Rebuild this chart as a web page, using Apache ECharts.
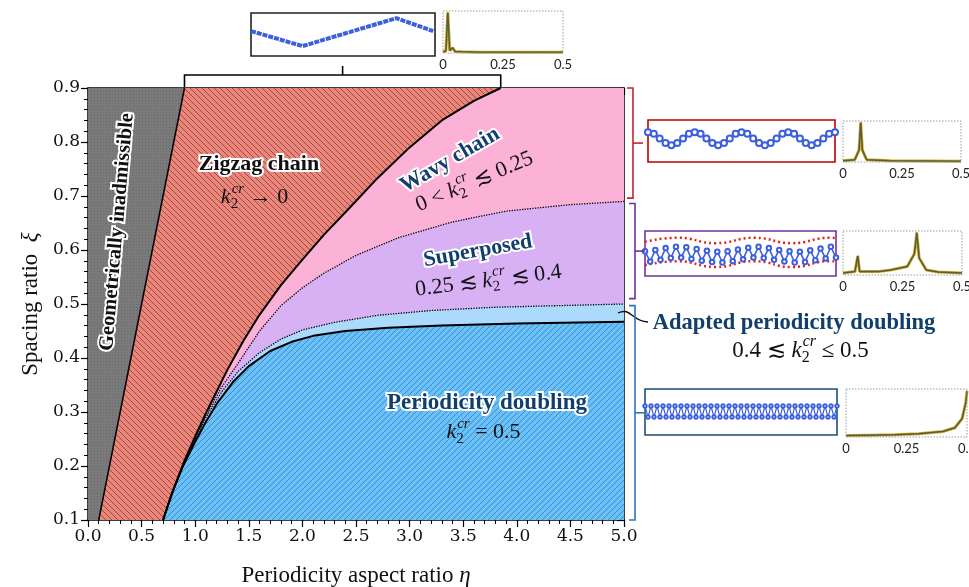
<!DOCTYPE html>
<html>
<head>
<meta charset="utf-8">
<script src="https://cdn.jsdelivr.net/npm/echarts@6/dist/echarts.min.js"></script>
<style>
html, body { margin: 0; padding: 0; background: #fff; }
#main { width: 969px; height: 587px; }
</style>
</head>
<body>
<div id="main"></div>
<script>
// phase boundaries, points are [eta, xi]
var admissibleLine = [[0.1, 0.1], [0.9, 0.9]];
var zigzagLine = [[0.70, 0.10], [0.80, 0.158], [0.90, 0.21], [1.0, 0.255], [1.1, 0.298], [1.2, 0.338], [1.3, 0.378], [1.45, 0.432], [1.6, 0.48], [1.8, 0.535], [2.0, 0.582], [2.2, 0.628], [2.45, 0.68], [2.7, 0.733], [3.0, 0.79], [3.3, 0.84], [3.6, 0.876], [3.85, 0.90]];
var doublingLine = [[0.70, 0.10], [0.78, 0.148], [0.88, 0.197], [1.0, 0.245], [1.1, 0.282], [1.2, 0.315], [1.35, 0.355], [1.5, 0.385], [1.7, 0.413], [1.9, 0.43], [2.1, 0.441], [2.4, 0.45], [2.8, 0.456], [3.3, 0.46], [4.0, 0.464], [5.0, 0.467]];
var adaptedLine = [[0.95, 0.228], [1.1, 0.29], [1.25, 0.338], [1.4, 0.375], [1.6, 0.41], [1.8, 0.435], [2.0, 0.452], [2.3, 0.466], [2.7, 0.479], [3.2, 0.488], [3.8, 0.494], [4.4, 0.497], [5.0, 0.5]];
var superposedLine = [[0.97, 0.24], [1.1, 0.294], [1.25, 0.347], [1.4, 0.39], [1.6, 0.45], [1.8, 0.497], [2.0, 0.53], [2.2, 0.557], [2.5, 0.59], [2.9, 0.623], [3.4, 0.652], [3.9, 0.672], [4.5, 0.684], [5.0, 0.69]];

// inset chain shapes (normalised box coords)
var zigzagChain = [[0.0, 0.58], [0.28, 0.23], [0.79, 0.88], [0.99, 0.58]];
var wavyChain = [0.71, 0.67, 0.56, 0.45, 0.40, 0.45, 0.56, 0.67, 0.71, 0.67, 0.56, 0.45, 0.40, 0.45, 0.56, 0.67, 0.71, 0.67, 0.56, 0.45, 0.40, 0.45, 0.56, 0.67, 0.71, 0.67, 0.56, 0.45, 0.40, 0.45, 0.56, 0.67, 0.71];
var superChain = [0.55, 0.32, 0.58, 0.36, 0.62, 0.40, 0.65, 0.41, 0.64, 0.38, 0.60, 0.34, 0.56, 0.31, 0.54, 0.30, 0.55, 0.33, 0.59, 0.37, 0.63, 0.41, 0.65, 0.40, 0.62, 0.36, 0.58, 0.32, 0.55, 0.30, 0.54, 0.31, 0.57, 0.35, 0.61, 0.39, 0.65, 0.41];
var superUpper = [[0, 0.76], [0.17, 0.85], [0.37, 0.73], [0.57, 0.85], [0.77, 0.73], [0.97, 0.85], [1.0, 0.84]];
var superLower = [[0, 0.24], [0.17, 0.33], [0.37, 0.20], [0.57, 0.33], [0.77, 0.20], [0.97, 0.33], [1.0, 0.32]];
var doublingChain = [0.63, 0.39, 0.63, 0.39, 0.63, 0.39, 0.63, 0.39, 0.63, 0.39, 0.63, 0.39, 0.63, 0.39, 0.63, 0.39, 0.63, 0.39, 0.63, 0.39, 0.63, 0.39, 0.63, 0.39, 0.63, 0.39, 0.63, 0.39, 0.63, 0.39, 0.63, 0.39, 0.63, 0.39, 0.63, 0.39, 0.63, 0.39, 0.63, 0.39, 0.63, 0.39, 0.63, 0.39, 0.63, 0.39, 0.63, 0.39, 0.63, 0.39, 0.63, 0.39, 0.63, 0.39, 0.63, 0.39, 0.63, 0.39, 0.63, 0.39, 0.63, 0.39, 0.63, 0.39, 0.63];

// wavenumber spectra [k, amplitude]
var specZigzag = [[0, 0.03], [0.012, 0.05], [0.02, 1.0], [0.028, 0.06], [0.04, 0.13], [0.05, 0.04], [0.08, 0.03], [0.15, 0.02], [0.5, 0.02]];
var specWavy = [[0, 0.03], [0.05, 0.06], [0.068, 0.3], [0.075, 1.0], [0.082, 0.3], [0.1, 0.06], [0.2, 0.03], [0.5, 0.02]];
var specSuper = [[0, 0.05], [0.05, 0.08], [0.062, 0.45], [0.07, 0.08], [0.15, 0.08], [0.2, 0.12], [0.27, 0.2], [0.3, 0.5], [0.31, 1.0], [0.32, 0.4], [0.35, 0.12], [0.4, 0.07], [0.5, 0.05]];
var specDoubling = [[0, 0.03], [0.1, 0.04], [0.2, 0.05], [0.3, 0.07], [0.4, 0.12], [0.45, 0.2], [0.48, 0.4], [0.495, 0.75], [0.5, 1.0]];
var specTicks = ['0', '0.25', '0.5'];

var serif = "'Liberation Serif','DejaVu Serif',serif";
var tickFont = "'DejaVu Serif',serif";
var navy = '#113f6d';

function hatch(bg, line, size, dir) {
  var c = document.createElement('canvas');
  c.width = c.height = size;
  var g = c.getContext('2d');
  g.fillStyle = bg;
  g.fillRect(0, 0, size, size);
  g.strokeStyle = line;
  g.lineWidth = 1;
  g.beginPath();
  for (var k = -1; k <= 1; k++) {
    if (dir > 0) { g.moveTo(k * size, size); g.lineTo(k * size + size, 0); }
    else { g.moveTo(k * size, 0); g.lineTo(k * size + size, size); }
  }
  g.stroke();
  return { image: c, repeat: 'repeat' };
}
function dots(bg, dot) {
  var c = document.createElement('canvas');
  c.width = c.height = 3;
  var g = c.getContext('2d');
  g.fillStyle = bg; g.fillRect(0, 0, 3, 3);
  g.fillStyle = dot; g.fillRect(1, 1, 1, 1);
  return { image: c, repeat: 'repeat' };
}

function region(points, fill) {
  return {
    type: 'custom', xAxisIndex: 0, yAxisIndex: 0, silent: true, z: 1,
    data: [[0, 0]],
    renderItem: function (params, api) {
      return {
        type: 'polygon',
        shape: { points: points.map(function (p) { return api.coord(p); }) },
        style: { fill: fill, stroke: null }
      };
    }
  };
}
function below(line, xi) { return line.filter(function (p) { return p[1] < xi; }); }

var grayPoly = [[0, 0.1]].concat(admissibleLine, [[0, 0.9]]);
var redPoly = [[0.1, 0.1]].concat(zigzagLine, [[0.9, 0.9]]);
var pinkPoly = zigzagLine.concat([[5, 0.9], [5, 0.1]]);
var purplePoly = below(zigzagLine, superposedLine[0][1]).concat(superposedLine, [[5, 0.1]]);
var lightPoly = below(zigzagLine, adaptedLine[0][1]).concat(adaptedLine, [[5, 0.1]]);
var bluePoly = doublingLine.concat([[5, 0.1]]);

function boundary(data, type, width) {
  return { type: 'line', xAxisIndex: 0, yAxisIndex: 0, data: data, showSymbol: false, silent: true, z: 3,
    lineStyle: { color: '#000', width: width, type: type } };
}

function mainX(pos) {
  var top = pos === 'top';
  return { gridIndex: 0, type: 'value', position: pos, min: 0, max: 5, interval: 0.5,
    axisLine: { onZero: false, lineStyle: { color: '#000', width: 1.5 } },
    axisTick: { inside: top, length: 7, lineStyle: { color: '#000', width: 1.2 } },
    minorTick: { show: true, splitNumber: 5, length: 4, lineStyle: { color: '#000', width: 1 } },
    splitLine: { show: false },
    axisLabel: { show: !top, margin: 8, fontFamily: tickFont, fontSize: 17, color: '#111',
      formatter: function (v) { return v.toFixed(1); } },
    name: top ? '' : 'Periodicity aspect ratio {i|η}', nameLocation: 'middle', nameGap: 44,
    nameTextStyle: { fontFamily: serif, fontSize: 23, color: '#111',
      rich: { i: { fontFamily: serif, fontSize: 23, fontStyle: 'italic', color: '#111' } } }
  };
}
function mainY(pos) {
  var right = pos === 'right';
  return { gridIndex: 0, type: 'value', position: pos, min: 0.1, max: 0.9, interval: 0.1,
    axisLine: { onZero: false, lineStyle: { color: '#000', width: 1.5 } },
    axisTick: { inside: right, length: 7, lineStyle: { color: '#000', width: 1.2 } },
    minorTick: { show: true, splitNumber: 5, length: 4, lineStyle: { color: '#000', width: 1 } },
    splitLine: { show: false },
    axisLabel: { show: !right, margin: 8, fontFamily: tickFont, fontSize: 17, color: '#111',
      formatter: function (v) { return v.toFixed(1); } },
    name: right ? '' : 'Spacing ratio  {i|ξ}', nameLocation: 'middle', nameGap: 38,
    nameTextStyle: { fontFamily: serif, fontSize: 23, color: '#111',
      rich: { i: { fontFamily: serif, fontSize: 23, fontStyle: 'italic', color: '#111' } } }
  };
}

var insetGrids = [
  { left: 251, top: 13, width: 184, height: 43, border: '#222' },
  { left: 443, top: 11, width: 120, height: 42, spec: true },
  { left: 648, top: 120, width: 187, height: 42, border: '#c00000' },
  { left: 843, top: 121, width: 118, height: 41, spec: true },
  { left: 645, top: 231, width: 191, height: 45, border: '#7030a0' },
  { left: 843, top: 231, width: 119, height: 44, spec: true },
  { left: 645, top: 389, width: 192, height: 46, border: '#1f4e79' },
  { left: 846, top: 389, width: 121, height: 48, spec: true }
];

var grids = [{ left: 88, top: 88, width: 536, height: 432, show: false, outerBoundsMode: 'none' }];
var xAxes = [mainX('bottom'), mainX('top')];
var yAxes = [mainY('left'), mainY('right')];
var graphics = [];

insetGrids.forEach(function (g, i) {
  var gi = i + 1;
  grids.push({ left: g.left, top: g.top, width: g.width, height: g.height, outerBoundsMode: 'none',
    show: !g.spec, backgroundColor: '#fff', borderColor: g.border || '#999', borderWidth: 1.6 });
  if (g.spec) {
    xAxes.push({ gridIndex: gi, type: 'value', min: 0, max: 0.5, interval: 0.25,
      axisLine: { show: false }, axisTick: { show: false }, splitLine: { show: false },
      axisLabel: { margin: 5, fontFamily: 'Lato', fontSize: 13, color: '#222',
        formatter: function (v) { return specTicks[Math.round(v / 0.25)]; } } });
    yAxes.push({ gridIndex: gi, type: 'value', min: 0, max: 1.04, show: false });
    graphics.push({ type: 'rect', silent: true, z: 5,
      shape: { x: g.left, y: g.top, width: g.width, height: g.height },
      style: { fill: null, stroke: '#9a9a9a', lineWidth: 1, lineDash: [1.5, 1.5] } });
  } else if (gi === 1) {
    xAxes.push({ gridIndex: gi, type: 'value', min: 0, max: 1, show: false });
    yAxes.push({ gridIndex: gi, type: 'value', min: 0, max: 1, show: false });
  } else {
    var src = gi === 3 ? wavyChain : gi === 5 ? superChain : doublingChain;
    xAxes.push({ gridIndex: gi, type: 'category', boundaryGap: false, show: false,
      data: src.map(function (v, k) { return k; }) });
    yAxes.push({ gridIndex: gi, type: 'value', min: 0, max: 1, show: false });
  }
});
// the superposed envelopes use a value x axis on the same inset
xAxes.push({ gridIndex: 5, type: 'value', min: 0, max: 1, show: false });
var envX = xAxes.length - 1;

function spectrum(idx, data) {
  return [
    { type: 'line', xAxisIndex: idx, yAxisIndex: idx, data: data, showSymbol: false, silent: true,
      lineStyle: { color: '#e3a21a', width: 3 } },
    { type: 'line', xAxisIndex: idx, yAxisIndex: idx, data: data, showSymbol: false, silent: true,
      lineStyle: { color: '#2f7d32', width: 1.5 } },
    { type: 'line', xAxisIndex: idx, yAxisIndex: idx, data: data, showSymbol: false, silent: true,
      lineStyle: { color: '#a0226e', width: 0.8, type: 'dotted' } }
  ];
}

var chainBlue = '#3c5fe0';
function chain(idx, data, size, width, smooth) {
  return { type: 'line', xAxisIndex: idx, yAxisIndex: idx, data: data, smooth: smooth, symbol: 'emptyCircle',
    symbolSize: size, showAllSymbol: true, silent: true,
    itemStyle: { color: chainBlue, borderWidth: 1 }, lineStyle: { color: chainBlue, width: width } };
}
var series = [
  region(grayPoly, dots('#7a7a7a', '#686868')),
  region(redPoly, hatch('#e9877d', '#a4483f', 6, -1)),
  region(pinkPoly, '#fcb1d6'),
  region(purplePoly, '#d8b0f4'),
  region(lightPoly, '#acdafc'),
  region(bluePoly, hatch('#6cc0f6', '#2f8ed6', 6, 1)),
  boundary(admissibleLine, 'solid', 1.5),
  boundary(zigzagLine, 'solid', 2),
  boundary(doublingLine, 'solid', 2),
  boundary(adaptedLine, 'dotted', 1.3),
  boundary(superposedLine, 'dotted', 1.3),
  { type: 'line', xAxisIndex: 2, yAxisIndex: 2, data: zigzagChain, showSymbol: false, silent: true,
    lineStyle: { color: chainBlue, width: 4, type: [5, 1] } },
  chain(4, wavyChain, 6, 2.5, true),
  { type: 'line', xAxisIndex: envX, yAxisIndex: 6, data: superUpper, smooth: true, showSymbol: false, silent: true,
    lineStyle: { color: '#e0201c', width: 2.5, type: [2, 3] } },
  { type: 'line', xAxisIndex: envX, yAxisIndex: 6, data: superLower, smooth: true, showSymbol: false, silent: true,
    lineStyle: { color: '#e0201c', width: 2.5, type: [2, 3] } },
  chain(6, superChain, 4.5, 1.6, false),
  chain(8, doublingChain, 3.5, 1.2, false)
].concat(spectrum(3, specZigzag), spectrum(5, specWavy), spectrum(7, specSuper), spectrum(9, specDoubling));

var chart = echarts.init(document.getElementById('main'));
chart.setOption({
  animation: false,
  backgroundColor: '#fff',
  grid: grids,
  xAxis: xAxes,
  yAxis: yAxes,
  series: series
});

// ---------- annotations ----------
var measureCtx = document.createElement('canvas').getContext('2d');
function textW(s, font) { measureCtx.font = font; return measureCtx.measureText(s).width; }

function label(x, y, s, size, color, rot, bold) {
  return { type: 'text', x: x, y: y, rotation: (rot || 0) * Math.PI / 180, z: 20, silent: true,
    style: { text: s, font: (bold ? 'bold ' : '') + size + 'px ' + serif, fill: color,
      align: 'center', verticalAlign: 'middle', textAlign: 'center', textVerticalAlign: 'middle',
      stroke: '#fff', lineWidth: bold ? 4 : 0, shadowColor: 'rgba(255,255,255,0.9)', shadowBlur: bold ? 4 : 0 } };
}
// "pre k_2^cr post" with stacked sub/superscript
function kLabel(x, y, pre, post, size, rot) {
  var f = size + 'px ' + serif, fi = 'italic ' + f;
  var small = Math.round(size * 0.68), fs = 'italic ' + small + 'px ' + serif, fs2 = small + 'px ' + serif;
  var wPre = textW(pre, f), wK = textW('k', fi), wSup = Math.max(textW('cr', fs), textW('2', fs2)), wPost = textW(post, f);
  var total = wPre + wK + wSup + wPost, x0 = -total / 2;
  function t(s, font, dx, dy) {
    return { type: 'text', x: dx, y: dy, z: 20, silent: true, style: { text: s, font: font, fill: '#111',
      align: 'left', verticalAlign: 'middle', textAlign: 'left', textVerticalAlign: 'middle' } };
  }
  return { type: 'group', x: x, y: y, rotation: (rot || 0) * Math.PI / 180, z: 20, silent: true, children: [
    t(pre, f, x0, 0),
    t('k', fi, x0 + wPre, 0),
    t('cr', fs, x0 + wPre + wK + 1, -size * 0.38),
    t('2', fs2, x0 + wPre + wK, size * 0.3),
    t(post, f, x0 + wPre + wK + wSup + 1, 0)
  ] };
}

function px(p) { return chart.convertToPixel({ xAxisIndex: 0, yAxisIndex: 0 }, p); }
function bracket(xiTop, xiBot, color, x, tickTo) {
  var a = px([5, xiTop]), b = px([5, xiBot]);
  var mid = (a[1] + b[1]) / 2;
  return [
    { type: 'polyline', silent: true, z: 10, shape: { points: [[x - 6, a[1]], [x, a[1]], [x, b[1]], [x - 6, b[1]]] },
      style: { stroke: color, lineWidth: 1.6, fill: null } },
    { type: 'line', silent: true, z: 10, shape: { x1: x, y1: mid, x2: tickTo, y2: mid },
      style: { stroke: color, lineWidth: 1.6 } }
  ];
}

var topL = px(admissibleLine[1]), topR = px(zigzagLine[zigzagLine.length - 1]);
var bandR = px([5, (adaptedLine[adaptedLine.length - 1][1] + doublingLine[doublingLine.length - 1][1]) / 2]);
graphics = graphics.concat(
  [{ type: 'polyline', silent: true, z: 10,
     shape: { points: [[topL[0], topL[1] - 1], [topL[0], 75], [topR[0], 75], [topR[0], topR[1] - 1]] },
     style: { stroke: '#000', lineWidth: 1.6, fill: null } },
   { type: 'line', silent: true, z: 10, shape: { x1: (topL[0] + topR[0]) / 2, y1: 75, x2: (topL[0] + topR[0]) / 2, y2: 66 },
     style: { stroke: '#000', lineWidth: 1.6 } },
   { type: 'bezierCurve', silent: true, z: 10,
     shape: { x1: bandR[0] - 6, y1: bandR[1], cpx1: bandR[0] + 8, cpy1: bandR[1] - 6, cpx2: bandR[0] + 6, cpy2: bandR[1] + 8, x2: 648, y2: 322 },
     style: { stroke: '#111', lineWidth: 1.4, fill: null } }],
  bracket(0.9, superposedLine[superposedLine.length - 1][1] + 0.006, '#c0262a', 633, 643),
  bracket(superposedLine[superposedLine.length - 1][1] - 0.004, 0.51, '#7030a0', 635, 645),
  bracket(adaptedLine[adaptedLine.length - 1][1] - 0.003, 0.1, '#2e75b6', 635, 645),
  [
    label(117, 232, 'Geometrically inadmissible', 20.5, '#111', 85, true),
    label(259, 164, 'Zigzag chain', 22, '#111', 0, true),
    kLabel(254, 197, '', ' \u2192 0', 22, 0),
    label(450, 160, 'Wavy chain', 22, navy, 30, true),
    kLabel(474, 182, '0 < ', ' \u2272 0.25', 22, 23),
    label(478, 251, 'Superposed', 22, navy, 10, true),
    kLabel(488, 281, '0.25 \u2272 ', ' \u2272 0.4', 22, 7),
    label(487, 403, 'Periodicity doubling', 23, navy, 0, true),
    kLabel(483, 432, '', ' = 0.5', 22, 0),
    label(794, 323, 'Adapted periodicity doubling', 22.5, navy, 0, true),
    kLabel(800, 351, '0.4 \u2272 ', ' \u2264 0.5', 23, 0)
  ]
);
chart.setOption({ graphic: graphics });
</script>
</body>
</html>
